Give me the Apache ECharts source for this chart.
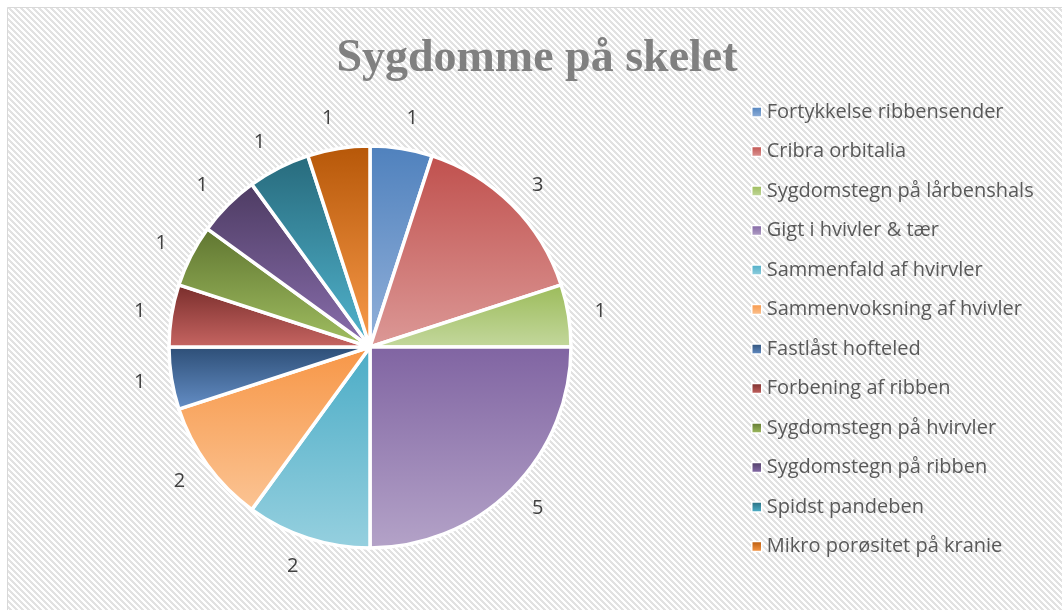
<!DOCTYPE html>
<html>
<head>
<meta charset="utf-8">
<script src="https://cdn.jsdelivr.net/npm/echarts@6/dist/echarts.min.js"></script>
<style>
    html, body { margin: 0; padding: 0; background: #fff; }
    #chart { width: 1062px; height: 610px; }
</style>
</head>
<body>
<div id="chart"></div>
<script>
var categories = ['Fortykkelse ribbensender', 'Cribra orbitalia', 'Sygdomstegn på lårbenshals',
    'Gigt i hvivler & tær', 'Sammenfald af hvirvler', 'Sammenvoksning af hvivler', 'Fastlåst hofteled',
    'Forbening af ribben', 'Sygdomstegn på hvirvler', 'Sygdomstegn på ribben', 'Spidst pandeben',
    'Mikro porøsitet på kranie'];
var values = [1, 3, 1, 5, 2, 2, 1, 1, 1, 1, 1, 1];
// top (dark) and bottom (light) colour of each slice gradient
var topColors = ['#4f81bd', '#c0504d', '#9bbb59', '#8064a2', '#4bacc6', '#f79646',
    '#2c4d75', '#772c2a', '#5f7530', '#4d3b62', '#276a7c', '#b65708'];
var bottomColors = ['#93b1da', '#dc9997', '#c4d89e', '#b4a3c8', '#96d0df', '#fbc494',
    '#6690c8', '#c86663', '#a2c062', '#8a6fae', '#52b5cf', '#fa9c4c'];

var chart = echarts.init(document.getElementById('chart'));

// diagonal hatch background
var hatch = document.createElement('canvas');
hatch.width = 6;
hatch.height = 6;
var hctx = hatch.getContext('2d');
for (var x = 0; x < 6; x++) {
    for (var y = 0; y < 6; y++) {
        var k = ((x - y) % 6 + 6) % 6;
        hctx.fillStyle = k < 3 ? '#e2e2e2' : '#ffffff';
        hctx.fillRect(x, y, 1, 1);
    }
}

var pieData = [];
for (var i = 0; i < values.length; i++) {
    pieData.push({
        name: categories[i],
        value: values[i],
        itemStyle: {
            color: new echarts.graphic.LinearGradient(0, 0, 0, 1, [
                { offset: 0, color: topColors[i] },
                { offset: 1, color: bottomColors[i] }
            ])
        }
    });
}

var cx = 370, cy = 347;

var option = {
    backgroundColor: '#ffffff',
    animation: false,
    graphic: [{
        type: 'rect',
        z: -10,
        shape: { x: 7.5, y: 7.5, width: 1070, height: 620 },
        style: {
            fill: { image: hatch, repeat: 'repeat' },
            stroke: '#d9d9d9',
            lineWidth: 1
        }
    }],
    title: {
        text: 'Sygdomme på skelet',
        left: 532,
        textAlign: 'center',
        top: 31,
        textStyle: {
            fontFamily: 'Liberation Serif',
            fontWeight: 'bold',
            fontSize: 46,
            color: '#808080'
        }
    },
    legend: {
        orient: 'vertical',
        left: 746,
        top: 97,
        itemWidth: 10,
        itemHeight: 10,
        itemGap: 19.5,
        icon: 'rect',
        itemStyle: { borderColor: '#ffffff', borderWidth: 1.5 },
        textStyle: {
            fontFamily: 'Open Sans',
            fontSize: 20,
            lineHeight: 20,
            color: '#595959'
        },
        data: categories
    },
    series: [{
        type: 'pie',
        center: [cx, cy],
        radius: 201,
        startAngle: 90,
        clockwise: true,
        avoidLabelOverlap: false,
        itemStyle: { borderColor: '#ffffff', borderWidth: 3.5 },
        label: {
            show: true,
            position: 'outside',
            formatter: '{c}',
            fontFamily: 'Open Sans',
            fontSize: 20,
            color: '#404040',
            distanceToLabelLine: 0
        },
        labelLine: { show: false, length: 22, length2: 0 },
        labelLayout: function (p) {
            var r = p.labelRect;
            var mx = r.x + r.width / 2 - cx;
            var my = r.y + r.height / 2 - cy;
            var d = Math.sqrt(mx * mx + my * my);
            var s = 233 / d;
            return {
                x: cx + mx * s,
                y: cy + my * s,
                align: 'center',
                verticalAlign: 'middle'
            };
        },
        emphasis: { disabled: true },
        data: pieData
    }]
};
chart.setOption(option);
</script>
</body>
</html>
